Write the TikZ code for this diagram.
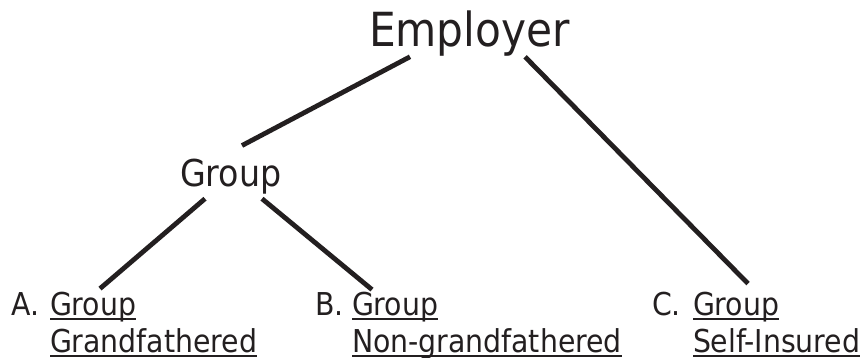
\documentclass[tikz,border=0pt]{standalone}
\usepackage{fontspec}
\setmainfont{DejaVu Sans Condensed}
\usepackage{tikz}
\usetikzlibrary{
	positioning
}
\definecolor{ink}{RGB}{35,31,32}
\newcommand\ulin[1]{\setbox0\hbox{#1}\rlap{\color{ink}\rule[-0.16em]{\wd0}{0.07em}}\box0}

\begin{document}
\begin{tikzpicture}[x=1pt,y=1pt,
		every node/.style={inner sep=0pt,outer sep=0pt,text=ink,anchor=base west},
		top/.style={font=\fontsize{47}{56}\selectfont},
		mid/.style={font=\fontsize{37}{44}\selectfont},
		leaf/.style={font=\fontsize{31.5}{37}\selectfont,align=left},
		branch/.style={draw=ink,line width=4.8pt}]
		\useasboundingbox (0,0) rectangle (865,-358);
		\draw[branch]
			node [top]  (emp) at (369,-47)  {Employer}
			node [mid]  (grp) at (180,-187) {Group}

			node [leaf] (la) at (12,-315)  {A.}
			node [leaf] (ta) at (50,-352)  {\ulin{Group}\\\ulin{Grandfathered}}
			node [leaf] (lb) at (315,-315) {B.}
			node [leaf] (tb) at (352,-352) {\ulin{Group}\\\ulin{Non-grandfathered}}
			node [leaf] (lc) at (652,-315) {C.}
			node [leaf] (tc) at (693,-352) {\ulin{Group}\\\ulin{Self-Insured}}

			([xshift=41pt]emp.south west)              edge ([xshift=62pt,yshift=14pt]grp.north west)
			([xshift=156pt]emp.south west)             edge ([xshift=55pt,yshift=8pt]tc.north west)
			([xshift=25pt,yshift=-4pt]grp.south west)  edge ([xshift=50pt,yshift=3pt]ta.north west)
			([xshift=82pt,yshift=-4pt]grp.south west)  edge ([xshift=20pt,yshift=2pt]tb.north west)
		;
\end{tikzpicture}
\end{document}
